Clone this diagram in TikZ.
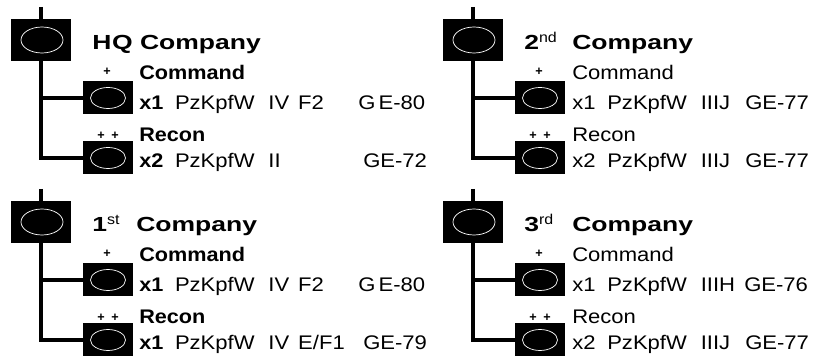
\documentclass[tikz,border=0pt]{standalone}
\usepackage{fontspec}
\setmainfont{Liberation Sans}
\newfontfamily\wideplain[FakeStretch=1.12]{Liberation Sans}
\newfontfamily\widebold[FakeStretch=1.3]{Liberation Sans Bold}
\newfontfamily\bodybold[FakeStretch=1.1]{Liberation Sans Bold}
\usetikzlibrary{shapes.geometric}
\tikzset{
	unitbig/.style={fill=black, minimum width=1.5cm, minimum height=1.05cm, inner sep=0},
	unitsmall/.style={fill=black, minimum width=1.25cm, minimum height=0.825cm, inner sep=0},
	ovalbig/.style={ellipse, draw=white, line width=0.5pt, minimum width=1.05cm, minimum height=0.65cm, inner sep=0},
	ovalsmall/.style={ellipse, draw=white, line width=0.5pt, minimum width=0.875cm, minimum height=0.525cm, inner sep=0},
	title/.style={anchor=base west, inner sep=0, font=\widebold\fontsize{14.5}{16}\selectfont},
	body/.style={anchor=base west, inner sep=0, font=\wideplain\fontsize{14}{16}\selectfont},
	rank/.style={inner sep=0, font=\bfseries\fontsize{9}{10}\selectfont},
	trunk/.style={line width=0.09cm},
	branch/.style={line width=0.08cm}
}
\def\unitgroup#1{
	\coordinate (#1top) at (1.025, 8.775);
	\node[unitbig] (#1hq) at (1.025, 7.95) {};
	\node[ovalbig] (#1hqoval) at (1.05, 7.95) {};
	\node[unitsmall] (#1cmd) at (2.7, 6.5) {};
	\node[ovalsmall] (#1cmdoval) at (2.7, 6.5) {};
	\node[unitsmall] (#1rec) at (2.7, 5.0) {};
	\node[ovalsmall] (#1recoval) at (2.7, 5.0) {};
	\node[rank] (#1cmdrank) at (2.675, 7.15) {+};
	\node[rank] (#1recrankl) at (2.525, 5.55) {+};
	\node[rank] (#1recrankr) at (2.875, 5.55) {+};
	\draw[trunk] (#1top) -- (#1hq.north);
	\draw[trunk] (#1hq.south) -- (#1hq.south |- #1rec.west);
	\draw[branch] (#1hq.south) |- (#1cmd.west);
	\draw[branch] (#1hq.south) |- (#1rec.west);
}
\def\gapa{\hspace{4pt}}
\def\gapb{\hspace{5.5pt}}

\begin{document}
\begin{tikzpicture}
	\useasboundingbox (0, 0) rectangle (20.375, 8.95);

	% top left
	\unitgroup{a}
	\node[title] (atitle) at (2.3, 7.7) {H\kern0.5pt Q Company};
	\node[body] (acmdname) at (3.475, 6.95) {\bodybold Command};
	\node[body] (acmdtank) at (3.475, 6.2) {\bodybold x1 \gapa\wideplain PzKpfW \gapb IV \hspace{2pt}F2};
	\node[body] (acmdge) at (8.95, 6.2) {G\,E-80};
	\node[body] (arecname) at (3.475, 5.4) {\bodybold Recon};
	\node[body] (arectank) at (3.475, 4.75) {\bodybold x2 \gapa\wideplain PzKpfW \gapb II};
	\node[body] (arecge) at (9.075, 4.75) {GE-72};

	% top right
	\begin{scope}[shift={(10.8, 0)}]
		\unitgroup{b}
		\node[title] (btitle) at (2.3, 7.7) {2\textsuperscript{\wideplain nd}};
		\node[title] (btitleb) at (3.5, 7.7) {Company};
		\node[body] (bcmdname) at (3.5, 6.95) {Command};
		\node[body] (bcmdtank) at (3.5, 6.2) {x1 \gapa PzKpfW \gapb IIIJ};
		\node[body] (bcmdge) at (7.825, 6.2) {GE-77};
		\node[body] (brecname) at (3.5, 5.4) {Recon};
		\node[body] (brectank) at (3.5, 4.75) {x2 \gapa PzKpfW \gapb IIIJ};
		\node[body] (brecge) at (7.825, 4.75) {GE-77};
	\end{scope}

	% bottom left
	\begin{scope}[shift={(0, -4.55)}]
		\unitgroup{c}
		\node[title] (ctitle) at (2.3, 7.7) {1\textsuperscript{\wideplain st}};
		\node[title] (ctitleb) at (3.4, 7.7) {Company};
		\node[body] (ccmdname) at (3.475, 6.95) {\bodybold Command};
		\node[body] (ccmdtank) at (3.475, 6.2) {\bodybold x1 \gapa\wideplain PzKpfW \gapb IV \hspace{2pt}F2};
		\node[body] (ccmdge) at (8.95, 6.2) {G\,E-80};
		\node[body] (crecname) at (3.475, 5.4) {\bodybold Recon};
		\node[body] (crectank) at (3.475, 4.75) {\bodybold x1 \gapa\wideplain PzKpfW \gapb IV \hspace{2pt}E/F1};
		\node[body] (crecge) at (9.075, 4.75) {GE-79};
	\end{scope}

	% bottom right
	\begin{scope}[shift={(10.8, -4.55)}]
		\unitgroup{d}
		\node[title] (dtitle) at (2.3, 7.7) {3\textsuperscript{\wideplain rd}};
		\node[title] (dtitleb) at (3.5, 7.7) {Company};
		\node[body] (dcmdname) at (3.5, 6.95) {Command};
		\node[body] (dcmdtank) at (3.5, 6.2) {x1 \gapa PzKpfW \gapb IIIH};
		\node[body] (dcmdge) at (7.8, 6.2) {GE-76};
		\node[body] (drecname) at (3.5, 5.4) {Recon};
		\node[body] (drectank) at (3.5, 4.75) {x2 \gapa PzKpfW \gapb IIIJ};
		\node[body] (drecge) at (7.825, 4.75) {GE-77};
	\end{scope}
\end{tikzpicture}
\end{document}
